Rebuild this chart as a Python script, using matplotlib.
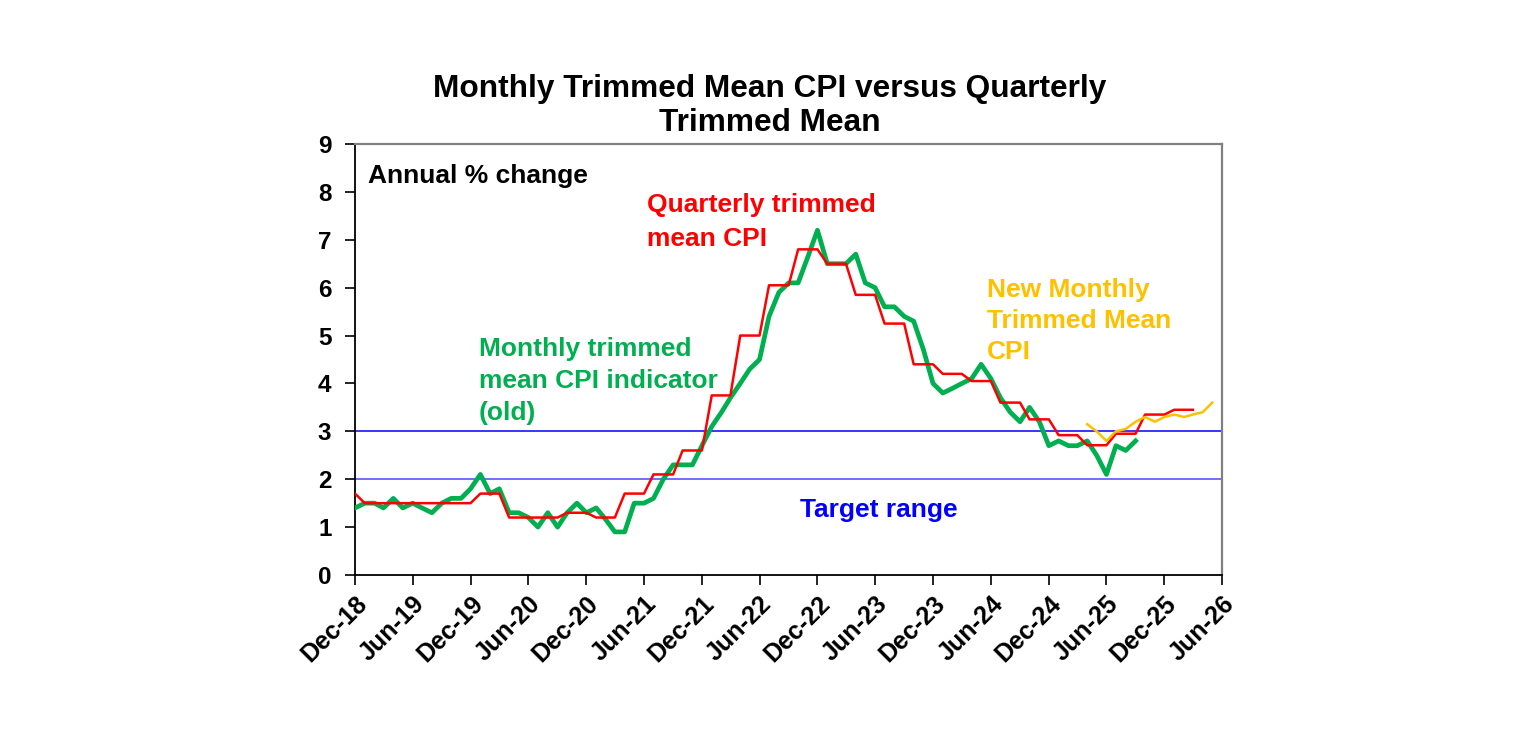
import numpy as np
import pandas as pd
import matplotlib
matplotlib.use("Agg")
import matplotlib.pyplot as plt
import matplotlib.dates as mdates

plt.rcParams['font.family'] = ['Liberation Sans', 'DejaVu Sans']

# ------------------------------------------------------------------
# Data (annual % change)
# ------------------------------------------------------------------
# old monthly trimmed mean CPI indicator, Dec-18 .. Sep-25
monthly_old = [
    1.4, 1.5, 1.5, 1.4, 1.6, 1.4, 1.5, 1.4, 1.3, 1.5, 1.6, 1.6,   # Dec-18..Nov-19
    1.8, 2.1, 1.7, 1.8, 1.3, 1.3, 1.2, 1.0, 1.3, 1.0, 1.3, 1.5,   # Dec-19..Nov-20
    1.3, 1.4, 1.15, 0.9, 0.9, 1.5, 1.5, 1.6, 2.0, 2.3, 2.3, 2.3,  # Dec-20..Nov-21
    2.7, 3.1, 3.4, 3.7, 4.0, 4.3, 4.5, 5.4, 5.9, 6.1, 6.1, 6.65,  # Dec-21..Nov-22
    7.2, 6.5, 6.5, 6.5, 6.7, 6.1, 6.0, 5.6, 5.6, 5.4, 5.3, 4.7,   # Dec-22..Nov-23
    4.0, 3.8, 3.9, 4.0, 4.1, 4.4, 4.1, 3.7, 3.4, 3.2, 3.5, 3.2,   # Dec-23..Nov-24
    2.7, 2.8, 2.7, 2.7, 2.8, 2.5, 2.1, 2.7, 2.6, 2.8,             # Dec-24..Sep-25
]

# quarterly trimmed mean, each quarter's value shown for its three months
# Dec-18 .. Mar-26
quarterly_tm = [
    1.7,
    1.5, 1.5, 1.5, 1.5, 1.5, 1.5, 1.5, 1.5, 1.5, 1.5, 1.5, 1.5,
    1.7, 1.7, 1.7, 1.2, 1.2, 1.2, 1.2, 1.2, 1.2, 1.3, 1.3, 1.3,
    1.2, 1.2, 1.2, 1.7, 1.7, 1.7, 2.1, 2.1, 2.1, 2.6, 2.6, 2.6,
    3.75, 3.75, 3.75, 5.0, 5.0, 5.0, 6.05, 6.05, 6.05, 6.8, 6.8, 6.8,
    6.5, 6.5, 6.5, 5.85, 5.85, 5.85, 5.25, 5.25, 5.25, 4.4, 4.4, 4.4,
    4.2, 4.2, 4.2, 4.05, 4.05, 4.05, 3.6, 3.6, 3.6, 3.25, 3.25, 3.25,
    2.92, 2.92, 2.92, 2.71, 2.71, 2.71, 2.95, 2.95, 2.95, 3.35, 3.35, 3.35,
    3.45, 3.45, 3.45,
]

# new (complete) monthly trimmed mean CPI, Apr-25 .. May-26
monthly_new = [3.15, 3.0, 2.8, 3.0, 3.05, 3.2, 3.3, 3.2, 3.3, 3.35, 3.3, 3.35, 3.4, 3.6]

target_low = 2
target_high = 3

months_old = pd.date_range("2018-12-01", periods=len(monthly_old), freq="MS")
months_q = pd.date_range("2018-12-01", periods=len(quarterly_tm), freq="MS")
months_new = pd.date_range("2025-04-01", periods=len(monthly_new), freq="MS")

GREEN = "#00B050"
RED = "#FF0000"
GOLD = "#FFC000"
BLUE = "#0000FF"

fig = plt.figure(figsize=(15.36, 7.44), dpi=100)
ax = fig.add_axes([355 / 1536, 1 - 575 / 744, (1222 - 355) / 1536, (575 - 144) / 744])

ax.axhline(target_high, color=BLUE, lw=1.1, zorder=1)
ax.axhline(target_low, color="#6F6FFF", lw=1.4, zorder=1)

ax.plot(months_old, monthly_old, color=GREEN, lw=3.4, zorder=3)
ax.plot(months_q, quarterly_tm, color=RED, lw=1.8, zorder=4)
ax.plot(months_new, monthly_new, color=GOLD, lw=1.8, zorder=4)

ax.set_ylim(0, 9)
ax.set_yticks(range(0, 10))
ax.set_xlim(pd.Timestamp("2018-12-01"), pd.Timestamp("2026-06-01"))
ticks = pd.date_range("2018-12-01", "2026-06-01", freq="6MS")
ax.set_xticks(ticks)
ax.xaxis.set_major_formatter(mdates.DateFormatter("%b-%y"))

ax.tick_params(axis="y", direction="out", length=7, width=1.2, labelsize=17.5, pad=10)
ax.tick_params(axis="x", direction="out", length=7, width=1.2, labelsize=18, pad=5)
for lab in ax.get_yticklabels():
    lab.set_fontweight("bold")
for lab in ax.get_xticklabels():
    lab.set_fontweight("bold")
    lab.set_rotation(45)
    lab.set_ha("right")
    lab.set_va("top")
    lab.set_rotation_mode("anchor")

for side in ("left", "bottom"):
    ax.spines[side].set_color("black")
    ax.spines[side].set_linewidth(1.3)
for side in ("top", "right"):
    ax.spines[side].set_color("#808080")
    ax.spines[side].set_linewidth(1.6)

fig.text(0.501, 1 - 106 / 744, "Monthly Trimmed Mean CPI versus Quarterly\nTrimmed Mean",
         ha="center", va="center", fontsize=22.8, fontweight="bold", linespacing=1.2)

ax.text(0.015, 0.926, "Annual % change", transform=ax.transAxes, fontsize=19,
        fontweight="bold", color="black", va="center", ha="left")

ax.text(pd.Timestamp("2021-06-12"), 7.37, "Quarterly trimmed\nmean CPI", color=RED,
        fontsize=19, fontweight="bold", va="center", ha="left", linespacing=1.5)
ax.text(pd.Timestamp("2019-12-28"), 4.05, "Monthly trimmed\nmean CPI indicator\n(old)", color=GREEN,
        fontsize=19, fontweight="bold", va="center", ha="left", linespacing=1.43)
ax.text(pd.Timestamp("2024-05-20"), 5.3, "New Monthly\nTrimmed Mean\nCPI", color=GOLD,
        fontsize=19, fontweight="bold", va="center", ha="left", linespacing=1.36)
ax.text(pd.Timestamp("2022-10-06"), 1.36, "Target range", color=BLUE,
        fontsize=19, fontweight="bold", va="center", ha="left")

fig.savefig("out.png", dpi=100, facecolor="white")
